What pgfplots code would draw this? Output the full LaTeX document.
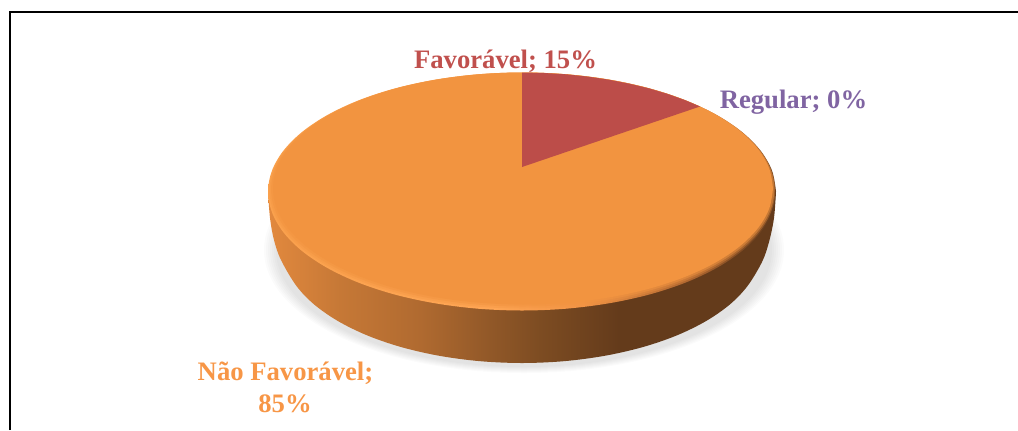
\documentclass[border=0pt]{standalone}
\usepackage{pgfplots}
\pgfplotsset{compat=1.18}
\usepackage{fontspec}
\setmainfont{Liberation Serif}
\definecolor{face}{RGB}{242,148,64}
\definecolor{redface}{RGB}{188,77,73}
\definecolor{lblred}{RGB}{192,80,77}
\definecolor{lblorange}{RGB}{247,150,70}
\definecolor{lblpurple}{RGB}{128,100,162}
\pgfdeclarehorizontalshading{sideshade}{100bp}{
  rgb(0bp)=(0.886,0.537,0.243);
  rgb(25bp)=(0.886,0.537,0.243);
  rgb(32.1bp)=(0.776,0.471,0.212);
  rgb(40bp)=(0.690,0.416,0.188);
  rgb(46.9bp)=(0.569,0.345,0.157);
  rgb(51.8bp)=(0.490,0.298,0.133);
  rgb(59.6bp)=(0.392,0.231,0.106);
  rgb(75bp)=(0.392,0.231,0.106);
  rgb(100bp)=(0.392,0.231,0.106)}
\pgfdeclarehorizontalshading{rimshade}{100bp}{
  rgb(0bp)=(0.98,0.63,0.30);
  rgb(25bp)=(0.98,0.63,0.30);
  rgb(47bp)=(1.0,0.65,0.33);
  rgb(56bp)=(0.95,0.58,0.27);
  rgb(66bp)=(0.70,0.41,0.19);
  rgb(75bp)=(0.39,0.23,0.11);
  rgb(100bp)=(0.39,0.23,0.11)}
\begin{document}
\begin{tikzpicture}
\begin{axis}[
  scale only axis, width=763.5pt, height=322.5pt,
  xmin=0, xmax=1018, ymin=0, ymax=430, y dir=reverse,
  hide axis, clip=true]
% fix the bounding box to the whole picture
\path (rel axis cs:0,0) rectangle (rel axis cs:1,1);
% frame: left and top only reach the picture
\addplot[black, line width=1.1pt, forget plot] coordinates {(10,430) (10,12) (1018,12)};
% soft shadow
\foreach \r/\s in {260/123,258/122,256/121,254/120,252/119,250/118,248/117}{
  \edef\temp{\noexpand\fill[black, opacity=0.016] (axis cs:524,250) ellipse [x radius=\r, y radius=\s];}
  \temp
}
% side wall
\addplot[shading=sideshade, draw=none, smooth, tension=0.55, forget plot] coordinates {
 (268,191.5) (270,218) (274,240) (281,260) (296.5,286) (314.2,304.5) (338.2,321.2) (367.7,335.6) (402,347.3) (439.9,355.9) (480.3,361.2) (522,363)
 (563.7,361.2) (604.1,355.9) (642,347.3) (676.3,335.6) (705.8,321.2) (729.8,304.5) (747.5,286) (762,262) (769,242) (774,218) (776,191.5)} -- cycle;
% rim of the top face
\addplot[shading=rimshade, draw=none, smooth, tension=0.55, forget plot] coordinates {
 (776,191.5) (772.1,170.8) (760.7,150.8) (742,132) (716.6,115) (685.3,100.3) (649,88.4) (608.9,79.7) (566.1,74.3) (522,72.5)
 (477.9,74.3) (435.1,79.7) (395,88.4) (358.7,100.3) (327.4,115) (302,132) (283.3,150.8) (271.9,170.8) (268,191.5)
 (271.9,212.2) (283.3,232.2) (302,251) (327.4,268) (358.7,282.7) (395,294.6) (435.1,303.3) (477.9,308.7) (522,310.5)
 (566.1,308.7) (608.9,303.3) (649,294.6) (685.3,282.7) (716.6,268) (742,251) (760.7,232.2) (772.1,212.2) (776,191.5)};
% soft bevel steps
\fill[face, opacity=0.35] (axis cs:522.4,190.5) ellipse [x radius=252.8, y radius=118];
\fill[face, opacity=0.5] (axis cs:522.7,189.5) ellipse [x radius=251.6, y radius=117];
% Não Favorável, 85%
\addplot[fill=face, draw=none, smooth, tension=0.55, forget plot] coordinates {
 (773,188.5) (769.2,168.4) (757.9,148.8) (739.5,130.5) (714.5,113.9) (683.7,99.6) (648,88) (608.5,79.5) (566.4,74.3) (523,72.5)
 (479.6,74.3) (437.5,79.5) (398,88) (362.3,99.6) (331.5,113.9) (306.5,130.5) (288.1,148.8) (276.8,168.4) (273,188.5)
 (276.8,208.6) (288.1,228.2) (306.5,246.5) (331.5,263.1) (362.3,277.4) (398,289) (437.5,297.5) (479.6,302.7) (523,304.5)
 (566.4,302.7) (608.5,297.5) (648,289) (683.7,277.4) (714.5,263.1) (739.5,246.5) (757.9,228.2) (769.2,208.6) (773,188.5)};
% Favorável, 15%
\addplot[fill=redface, draw=none, forget plot] coordinates {
 (522,167) (522,72.5) (544.1,73) (566.1,74.3) (587.7,76.6) (608.9,79.7) (629.4,83.7) (649,88.4) (667.8,94) (685.3,100.3) (700,106.5)} -- cycle;
% labels
\node[text=lblred, font=\bfseries\fontsize{20}{24}\selectfont] at (axis cs:505.5,61) {Favorável; 15\%};
\node[text=lblpurple, font=\bfseries\fontsize{20}{24}\selectfont] at (axis cs:793.5,102) {Regular; 0\%};
\node[text=lblorange, font=\bfseries\fontsize{20}{24}\selectfont] at (axis cs:285.5,373) {Não Favorável;};
\node[text=lblorange, font=\bfseries\fontsize{20}{24}\selectfont] at (axis cs:285,404) {85\%};
\end{axis}
\end{tikzpicture}
\end{document}
